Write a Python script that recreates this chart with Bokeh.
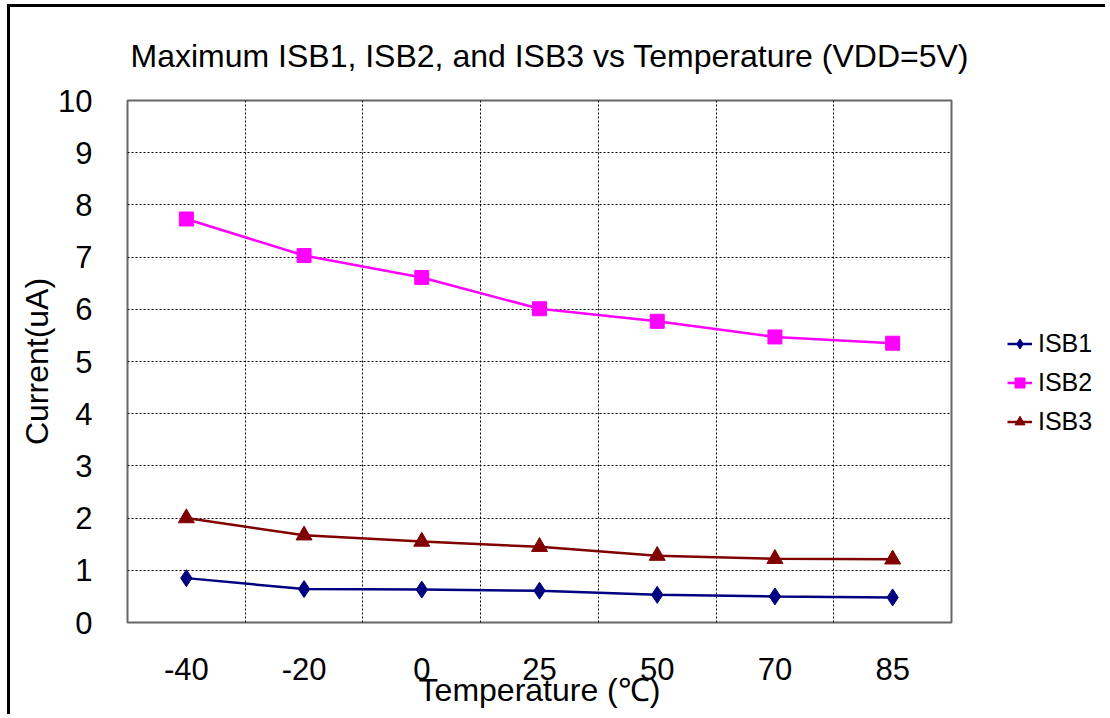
from bokeh.plotting import figure
from bokeh.layouts import row
from bokeh.models import FixedTicker, Legend, LegendItem, Range1d
from bokeh.embed import file_html
from bokeh.resources import INLINE

temps = ["-40", "-20", "0", "25", "50", "70", "85"]
isb1 = [0.85, 0.64, 0.63, 0.61, 0.53, 0.50, 0.48]
isb2 = [7.73, 7.03, 6.61, 6.01, 5.77, 5.47, 5.35]
isb3 = [2.00, 1.67, 1.55, 1.45, 1.28, 1.22, 1.21]
y_ticks = [0, 1, 2, 3, 4, 5, 6, 7, 8, 9, 10]
names = ["ISB1", "ISB2", "ISB3"]

FONT = "Liberation Sans"
xs = [i + 0.5 for i in range(len(temps))]

p = figure(width=963, height=710, output_backend="svg", toolbar_location=None,
           x_range=Range1d(0, len(temps)), y_range=Range1d(0, 10),
           min_border_left=117, min_border_right=22, min_border_top=93, min_border_bottom=95,
           title="Maximum ISB1, ISB2, and ISB3 vs Temperature (VDD=5V)")

p.title.align = "left"
p.title.offset = 3
p.title.text_font = FONT
p.title.text_font_size = "32px"
p.title.text_font_style = "normal"
p.title.text_color = "black"
p.title.standoff = 54

p.outline_line_color = "#666666"
p.outline_line_width = 2
p.background_fill_color = "white"
p.border_fill_color = "white"

# grid at category boundaries
p.xgrid.ticker = FixedTicker(ticks=list(range(1, len(temps))))
p.ygrid.ticker = FixedTicker(ticks=y_ticks[1:-1])
for g in (p.xgrid, p.ygrid):
    g.grid_line_color = "black"
    g.grid_line_dash = "2 2"
    g.grid_line_width = 1

xa = p.xaxis[0]
xa.ticker = FixedTicker(ticks=xs)
xa.major_label_overrides = {x: t for x, t in zip(xs, temps)}
xa.axis_label = "Temperature (℃)"
ya = p.yaxis[0]
ya.ticker = FixedTicker(ticks=y_ticks)
ya.axis_label = "Current(uA)"
for a in (xa, ya):
    a.axis_line_color = None
    a.major_tick_line_color = None
    a.minor_tick_line_color = None
    a.major_label_text_font = FONT
    a.major_label_text_font_size = "31px"
    a.major_label_text_color = "black"
    a.axis_label_text_font = FONT
    a.axis_label_text_font_size = "32px"
    a.axis_label_text_font_style = "normal"
    a.axis_label_text_color = "black"
xa.major_label_standoff = 29
xa.axis_label_standoff = -11
ya.major_label_standoff = 29
ya.axis_label_standoff = 0

series = [isb1, isb2, isb3]
styles = [
    ("#000080", "diamond", 17),
    ("#FF00FF", "square", 14),
    ("#800000", "triangle", 16),
]
for ys, (color, marker, size) in zip(series, styles):
    p.line(xs, ys, line_color=color, line_width=2.5)
    p.scatter(xs, ys, marker=marker, size=size, fill_color=color, line_color=color)

# legend panel: a small figure to the right whose ranges show none of the data
q = figure(width=135, height=710, output_backend="svg", toolbar_location=None,
           x_range=Range1d(-20, -19), y_range=Range1d(-20, -19),
           x_axis_type=None, y_axis_type=None,
           min_border_left=0, min_border_right=0, min_border_top=0, min_border_bottom=0)
q.outline_line_color = None
q.grid.visible = False
q.background_fill_color = "white"
q.border_fill_color = "white"
items = []
for name, ys, (color, marker, size) in zip(names, series, styles):
    r1 = q.line(xs, ys, line_color=color, line_width=2.5)
    r2 = q.scatter(xs, ys, marker=marker, size=size, fill_color=color, line_color=color)
    items.append(LegendItem(label=name, renderers=[r1, r2]))
legend = Legend(items=items, location=(34, 186), orientation="vertical",
                glyph_width=25, glyph_height=25, label_height=25, spacing=10,
                label_standoff=6, padding=0, margin=0,
                label_text_font=FONT, label_text_font_size="25px", label_text_color="black",
                border_line_color=None, background_fill_alpha=0)
q.add_layout(legend, "center")

layout = row(p, q, spacing=0)
layout.margin = (7, 0, 0, 10)
layout.styles = {"box-shadow": "-3px -3px 0 0 black"}

open("out.html", "w").write(file_html(layout, INLINE))
